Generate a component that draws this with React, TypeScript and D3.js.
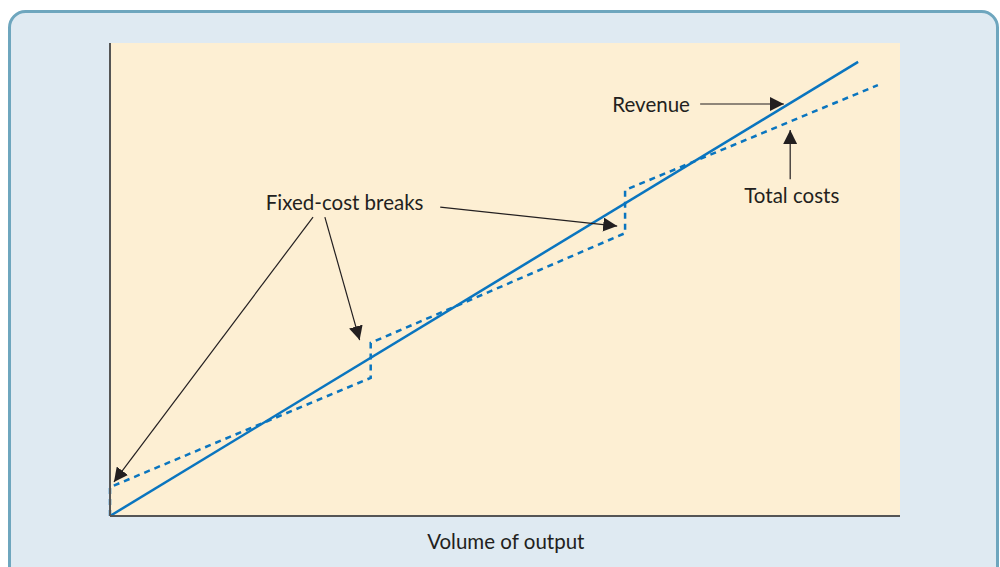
import React, { useRef, useEffect } from 'react'
import * as d3 from 'd3'

// volume of output (0-100) vs money (0-100)
const revenue = [
  { v: 0, y: 0 },
  { v: 94.7, y: 96 },
]

// total costs step up at each fixed-cost break
const totalCosts = [
  { v: 0, y: 0 },
  { v: 0, y: 6.1 },
  { v: 33, y: 29.2 },
  { v: 33, y: 36.6 },
  { v: 65.2, y: 59.8 },
  { v: 65.2, y: 68.9 },
  { v: 97.2, y: 91.1 },
]

const labels = [
  { text: 'Revenue', v: 68.5, y: 86.5 },
  { text: 'Total costs', v: 86.3, y: 67.3 },
  { text: 'Fixed-cost breaks', v: 29.7, y: 65.7 },
  { text: 'Volume of output', v: 50.1, y: -5.9 },
]

// arrows: from (v1,y1) to tip (v2,y2)
const arrows = [
  { v1: 74.7, y1: 87.1, v2: 85.3, y2: 87.1 },
  { v1: 86.1, y1: 71.2, v2: 86.1, y2: 81.6 },
  { v1: 41.8, y1: 65.3, v2: 64.2, y2: 61.3 },
  { v1: 25.7, y1: 63.2, v2: 0.5, y2: 7.2 },
  { v1: 27.2, y1: 63.2, v2: 31.6, y2: 37.2 },
]

export default function App() {
  const ref = useRef<SVGSVGElement>(null)

  useEffect(() => {
    const svg = d3.select(ref.current)
    svg.selectAll('*').remove()

    const margin = { top: 43, left: 110 }
    const width = 790, height = 473

    svg.append('rect')
      .attr('x', 9.5).attr('y', 11.5)
      .attr('width', 988).attr('height', 580)
      .attr('rx', 16)
      .attr('fill', '#dfeaf2')
      .attr('stroke', '#6ea6be')
      .attr('stroke-width', 3)

    const x = d3.scaleLinear().domain([0, 100]).range([0, width])
    const y = d3.scaleLinear().domain([0, 100]).range([height, 0])

    const defs = svg.append('defs')
    defs.append('marker')
      .attr('id', 'head')
      .attr('viewBox', '0 0 10 10')
      .attr('refX', 10).attr('refY', 5)
      .attr('markerWidth', 14).attr('markerHeight', 14)
      .attr('markerUnits', 'userSpaceOnUse')
      .attr('orient', 'auto')
      .append('path')
      .attr('d', 'M0,0 L10,5 L0,10 Z')
      .attr('fill', '#231f20')

    const g = svg.append('g')
      .attr('transform', `translate(${margin.left},${margin.top})`)

    g.append('rect')
      .attr('width', width).attr('height', height)
      .attr('fill', '#fdefd3')

    const line = d3.line<{ v: number; y: number }>()
      .x(d => x(d.v))
      .y(d => y(d.y))

    g.append('path')
      .datum(totalCosts)
      .attr('fill', 'none')
      .attr('stroke', '#0a75bf')
      .attr('stroke-width', 2.5)
      .attr('stroke-dasharray', '6,5')
      .attr('d', line)

    g.append('path')
      .datum(revenue)
      .attr('fill', 'none')
      .attr('stroke', '#0a75bf')
      .attr('stroke-width', 2.5)
      .attr('d', line)

    // axes
    g.append('line')
      .attr('x1', 0).attr('x2', 0).attr('y1', 0).attr('y2', height)
      .attr('stroke', '#555').attr('stroke-width', 2)
    g.append('line')
      .attr('x1', 0).attr('x2', width).attr('y1', height).attr('y2', height)
      .attr('stroke', '#555').attr('stroke-width', 2)

    g.selectAll('.arrow')
      .data(arrows)
      .enter()
      .append('line')
      .attr('x1', d => x(d.v1)).attr('y1', d => y(d.y1))
      .attr('x2', d => x(d.v2)).attr('y2', d => y(d.y2))
      .attr('stroke', '#231f20')
      .attr('stroke-width', 1.2)
      .attr('marker-end', 'url(#head)')

    g.selectAll('.label')
      .data(labels)
      .enter()
      .append('text')
      .attr('x', d => x(d.v))
      .attr('y', d => y(d.y))
      .attr('text-anchor', 'middle')
      .attr('dominant-baseline', 'middle')
      .attr('font-family', 'Lato, sans-serif')
      .attr('font-size', 20.5)
      .attr('fill', '#231f20')
      .text(d => d.text)
  }, [])

  return (
    <svg
      ref={ref}
      width={1000}
      height={567}
      style={{ position: 'absolute', left: 0, top: 0 }}
    />
  )
}
